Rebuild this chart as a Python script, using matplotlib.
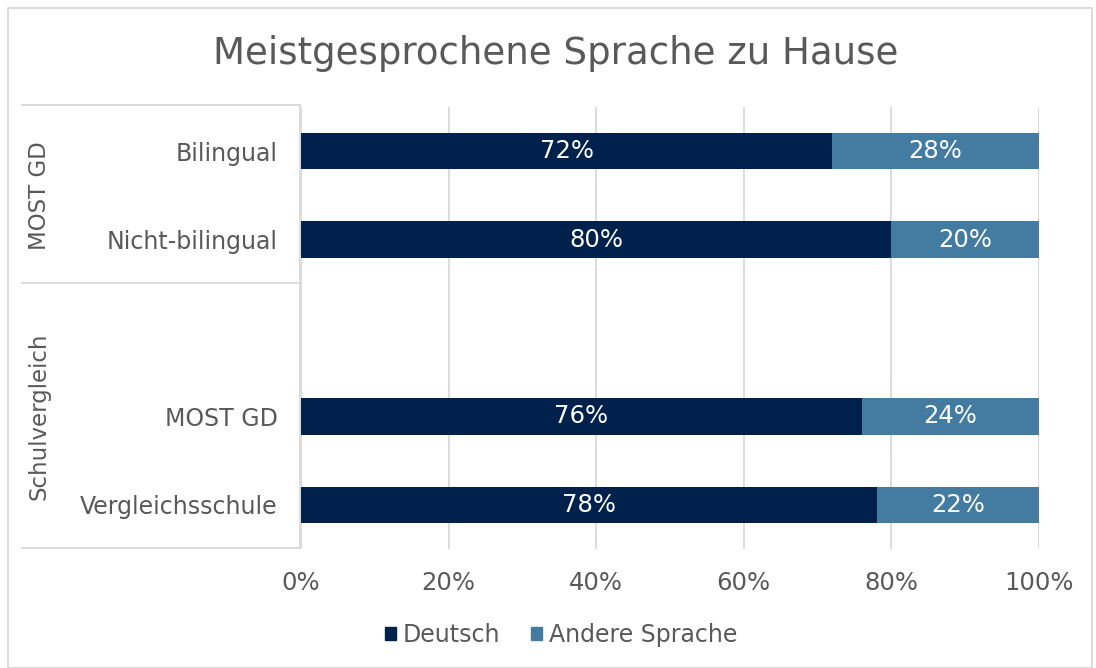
import matplotlib
matplotlib.use("Agg")
import matplotlib.pyplot as plt
from matplotlib.lines import Line2D
from matplotlib.patches import Rectangle

plt.rcParams['font.family'] = ['DejaVu Sans']

title = "Meistgesprochene Sprache zu Hause"
categories = ["Bilingual", "Nicht-bilingual", "", "MOST GD", "Vergleichsschule"]
groups = ["MOST GD", "Schulvergleich"]
group_sizes = [2, 3]
deutsch = [72, 80, None, 76, 78]
andere = [28, 20, None, 24, 22]
series_names = ["Deutsch", "Andere Sprache"]
xticks = [0, 20, 40, 60, 80, 100]

c_dark = "#00214B"
c_light = "#447BA0"
grey_text = "#595959"
line_grey = "#D9D9D9"

fig = plt.figure(figsize=(10.96, 6.68), dpi=100)
ax_top, ax_bot = 107, 549
ax = fig.add_axes([301/1096, 1-ax_bot/668, (1039-301)/1096, (ax_bot-ax_top)/668])

ypos = list(range(len(categories)))
for i, (d, a) in enumerate(zip(deutsch, andere)):
    if d is None:
        continue
    ax.barh(i, d, height=0.41, color=c_dark, zorder=3)
    ax.barh(i, a, left=d, height=0.41, color=c_light, zorder=3)
    ax.text(d/2, i, f"{d}%", color="white", ha="center", va="center", fontsize=17.5, zorder=4)
    ax.text(d + a/2, i, f"{a}%", color="white", ha="center", va="center", fontsize=17.5, zorder=4)

ax.set_xlim(0, 100)
ax.set_ylim(len(categories)-0.5, -0.5)
ax.set_xticks(xticks)
ax.set_xticklabels([f"{t}%" for t in xticks], fontsize=17.5, color=grey_text)
ax.tick_params(axis='x', length=0, pad=16)
ax.set_yticks(ypos)
ax.set_yticklabels(categories, fontsize=17, color=grey_text)
ax.tick_params(axis='y', length=0, pad=17)
ax.grid(axis='x', color=line_grey, linewidth=1.3, zorder=0)
for s in ax.spines.values():
    s.set_visible(False)

# category group frame
def fl(x0, y0, x1, y1):
    fig.add_artist(Line2D([x0/1096, x1/1096], [1-y0/668, 1-y1/668], color=line_grey, lw=1.3))

fl(22, 105, 300, 105)
fl(22, 283, 300, 283)
fl(22, 548, 300, 548)
fl(300, 105, 300, 548)

# group labels
step = (ax_bot - ax_top) / len(categories)
start = 0
for g, n in zip(groups, group_sizes):
    y0 = ax_top + start * step
    y1 = ax_top + (start + n) * step
    fig.text(39/1096, 1-((y0+y1)/2)/668, g, rotation=90, ha="center", va="center",
             fontsize=16.5, color=grey_text)
    start += n

# title
fig.text(556/1096, 1-53/668, title, ha="center", va="center", fontsize=26.7, color=grey_text)

# outer border
fig.add_artist(Rectangle((8/1096, 0), 1084/1096, 1-8/668, fill=False,
                         edgecolor=line_grey, lw=1.3, transform=fig.transFigure))

handles = [Rectangle((0, 0), 1, 1, color=c_dark), Rectangle((0, 0), 1, 1, color=c_light)]
fig.legend(handles, series_names, loc="center", bbox_to_anchor=(561/1096, 1-635/668),
           ncol=2, frameon=False, fontsize=17, handlelength=0.45, handleheight=0.45,
           handletextpad=0.3, columnspacing=1.3, labelcolor=grey_text)

fig.savefig("out.png", dpi=100)
